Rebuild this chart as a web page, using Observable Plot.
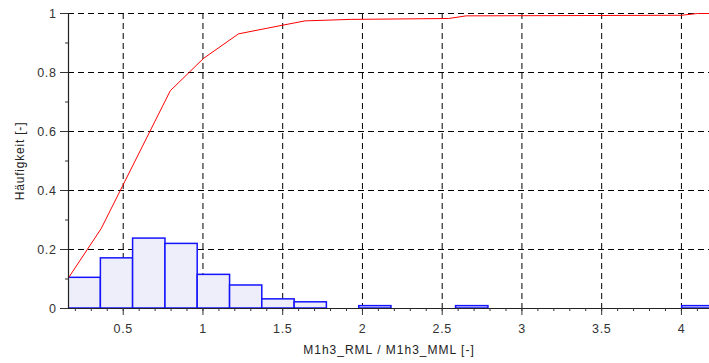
<!DOCTYPE html>
<html>
<head>
<meta charset="utf-8">
<script src="https://cdn.jsdelivr.net/npm/d3@7"></script>
<script src="https://cdn.jsdelivr.net/npm/@observablehq/plot@0.6"></script>
<style>
  html, body { margin: 0; padding: 0; background: #fff; }
  #chart svg { display: block; }
</style>
</head>
<body>
<div id="chart"></div>
<script>
// Histogram bin edges (ratio values) and relative frequencies
const binEdges = [0.157, 0.36, 0.562, 0.765, 0.967, 1.17, 1.372, 1.575, 1.777, 1.98, 2.182,
                  2.385, 2.587, 2.79, 2.992, 3.195, 3.397, 3.6, 3.802, 4.005, 4.207];
const freq = [0.104, 0.170, 0.237, 0.219, 0.114, 0.078, 0.031, 0.021, 0, 0.008,
              0, 0, 0.008, 0, 0, 0, 0, 0, 0, 0.008];

// Cumulative frequency curve
const cdfX = [0.157, 0.362, 0.795, 1.004, 1.223, 1.496, 1.64, 1.924, 2.54, 2.65, 4.0, 4.1, 4.18];
const cdfY = [0.104, 0.271, 0.738, 0.848, 0.931, 0.960, 0.975, 0.980, 0.983, 0.992, 0.994, 1.0, 1.0];

const xMajor = [0.5, 1, 1.5, 2, 2.5, 3, 3.5, 4];
const xMinor = d3.range(2, 42).map(d => d / 10);
const yMajor = [0, 0.2, 0.4, 0.6, 0.8, 1];
const yMinor = [0.1, 0.3, 0.5, 0.7, 0.9];
const xDomain = [0.157, 4.176];
const xTitle = "M1h3_RML / M1h3_MML [-]";
const yTitle = "Häufigkeit [-]";

const bins = freq.map((f, i) => ({x1: binEdges[i], x2: binEdges[i + 1], f}));
const cdf = cdfX.map((x, i) => ({x, y: cdfY[i]}));

const dash = "6,4";
const chart = Plot.plot({
  width: 709,
  height: 363,
  marginLeft: 68,
  marginRight: 0,
  marginTop: 13,
  marginBottom: 55,
  style: {fontFamily: "Liberation Sans, Arial, sans-serif", fontSize: "12.5px", color: "#333", background: "#fff"},
  x: {domain: xDomain},
  y: {domain: [0, 1]},
  marks: [
    Plot.gridX(xMajor, {stroke: "#000", strokeOpacity: 1, strokeDasharray: dash}),
    Plot.gridY(yMajor.slice(1), {stroke: "#000", strokeOpacity: 1, strokeDasharray: dash}),
    Plot.rectY(bins.filter(d => d.f > 0), {x1: "x1", x2: "x2", y: "f", fill: "#eeeefb", stroke: "#1414ff", strokeWidth: 1.5, clip: true}),
    Plot.line(cdf, {x: "x", y: "y", stroke: "#ff0000", strokeWidth: 1, clip: true}),
    Plot.ruleY([0], {stroke: "#222", strokeWidth: 1.2}),
    Plot.ruleX([xDomain[0]], {stroke: "#222", strokeWidth: 1.2}),
    Plot.axisX(xMinor, {tickSize: 3, text: null, stroke: "#333", label: null}),
    Plot.axisX(xMajor, {tickSize: 7, tickPadding: 9, stroke: "#333", fill: "#333",
      tickFormat: d => String(d), label: null}),
    Plot.axisY(yMinor, {tickSize: 3, text: null, stroke: "#333", label: null}),
    Plot.axisY(yMajor, {tickSize: 8, tickPadding: 4, stroke: "#333", fill: "#333",
      tickFormat: d => String(d), label: null}),
    Plot.text([xTitle], {frameAnchor: "bottom", dy: 45, fontSize: 12, fill: "#222"}),
    Plot.text([yTitle], {frameAnchor: "left", dx: -48, rotate: -90, textAnchor: "middle", fontSize: 12, fill: "#222"})
  ]
});
// widen the lettering a little, like the original rendering
d3.select(chart).selectAll("text").each(function () {
  const t = this.textContent;
  if (t === xTitle) this.style.letterSpacing = "1px";
  else if (t === yTitle) this.style.letterSpacing = "0.8px";
  else this.style.letterSpacing = "0.6px";
});
document.getElementById("chart").appendChild(chart);
</script>
</body>
</html>
